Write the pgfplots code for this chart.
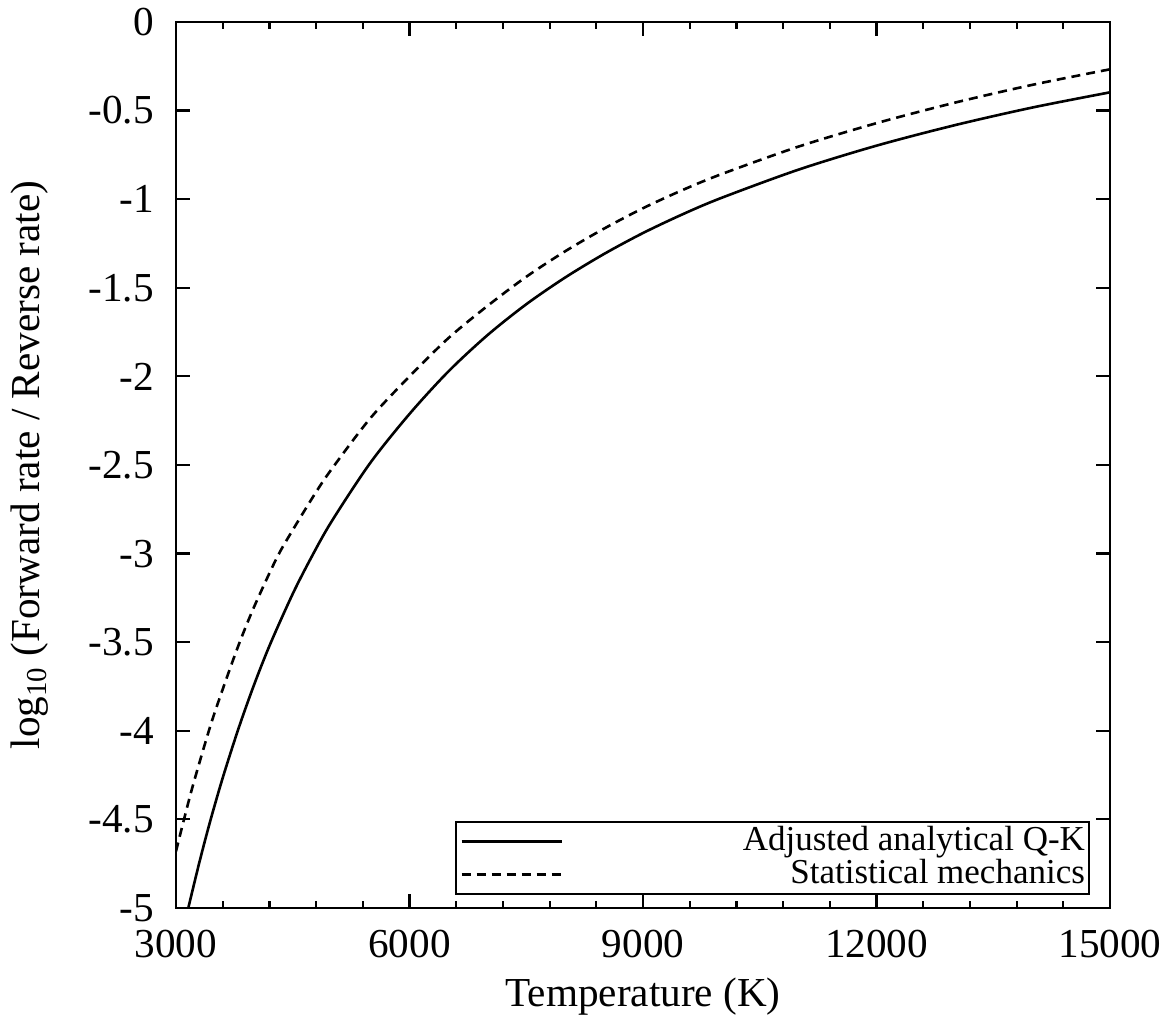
\documentclass[border=0pt]{standalone}
\usepackage{pgfplots}
\pgfplotsset{compat=1.18}
\usepackage{fontspec}
\setmainfont{Liberation Serif}
\begin{document}
\fontsize{20.6}{24}\selectfont
\begin{tikzpicture}
\begin{axis}[
  name=ax,
  scale only axis,
  width=467pt, height=443pt,
  xmin=3000, xmax=15000, ymin=-5, ymax=0,
  xtick={3000,6000,9000,12000,15000},
  xticklabels={3000,6000,9000,12000,15000},
  minor x tick num=4,
  ytick={-5,-4.5,-4,-3.5,-3,-2.5,-2,-1.5,-1,-0.5,0},
  yticklabels={-5,-4.5,-4,-3.5,-3,-2.5,-2,-1.5,-1,-0.5,0},
  scaled x ticks=false,
  tick align=inside,
  tick pos=both,
  major tick length=7pt,
  minor tick length=3.5pt,
  every tick/.style={black, line width=1.1pt},
  axis line style={line width=1.4pt},
  xticklabel style={yshift=-4pt},
  yticklabel style={xshift=-4pt},
  xlabel={Temperature (K)},
  ylabel={log\textsubscript{10} (Forward rate / Reverse rate)},
  xlabel style={yshift=4pt},
  ylabel shift=6pt,
  legend style={at={(axis description cs:0.9786,0.0147)}, anchor=south east,
    draw=black, line width=1.1pt, inner sep=2pt, row sep=1.3pt,
    font=\fontsize{17.5}{20}\selectfont,
    nodes={inner sep=0pt}},
  legend cell align=right,
  legend image code/.code={\draw[#1] (0pt,0pt) -- (50pt,0pt);},
]
\addplot[black, line width=1.3pt, smooth] table {
3158 -5.0
3300 -4.743
3437 -4.514
3600 -4.266
3801 -3.990
4000 -3.744
4208 -3.513
4500 -3.227
4743 -3.018
5000 -2.818
5493 -2.490
6000 -2.212
6500 -1.972
7000 -1.768
7500 -1.593
8000 -1.442
8500 -1.309
9000 -1.191
9500 -1.087
10000 -0.994
11000 -0.833
12000 -0.698
13000 -0.583
14000 -0.483
15000 -0.397
};
\addlegendentry{\makebox[261pt][r]{\vphantom{Qjy}Adjusted analytical Q-K}}
\addplot[black, line width=1.3pt, smooth, dash pattern=on 4.5pt off 3pt] table {
3000 -4.68
3200 -4.336
3437 -3.979
3600 -3.766
3801 -3.520
4000 -3.304
4293 -3.026
4500 -2.867
4786 -2.662
5000 -2.523
5493 -2.238
6000 -2.000
6500 -1.784
7000 -1.603
7500 -1.438
8000 -1.294
8500 -1.166
9000 -1.051
9500 -0.950
10000 -0.860
11000 -0.703
12000 -0.571
13000 -0.456
14000 -0.355
15000 -0.267
};
\addlegendentry{\makebox[261pt][r]{\vphantom{Qjy}Statistical mechanics}}
\end{axis}
\pgfresetboundingbox
\path[use as bounding box] ([xshift=-88pt,yshift=-54.5pt]ax.south west) rectangle ([xshift=27.5pt,yshift=11pt]ax.north east);
\end{tikzpicture}
\end{document}
